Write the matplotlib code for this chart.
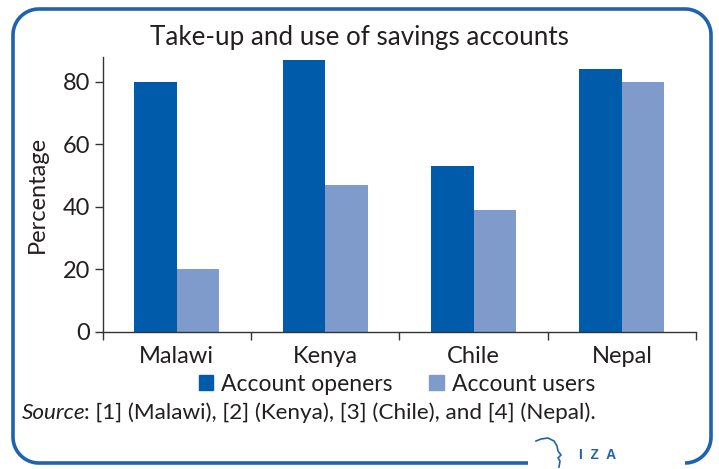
import numpy as np
import matplotlib
matplotlib.use("Agg")
import matplotlib.pyplot as plt
from matplotlib.patches import Patch

categories = ["Malawi", "Kenya", "Chile", "Nepal"]
openers = [80, 87, 53, 84]
users = [20, 47, 39, 80]
series_names = ["Account openers", "Account users"]
yticks = [0, 20, 40, 60, 80]
title = "Take-up and use of savings accounts"
source_lead = "Source"
source_rest = ": [1] (Malawi), [2] (Kenya), [3] (Chile), and [4] (Nepal)."

C_DARK = "#005BAA"
C_LIGHT = "#7F9BCC"
C_BORDER = "#1F63B0"
C_TEXT = "#231F20"
FONT = "Lato"

W, H = 719, 469
fig = plt.figure(figsize=(W / 100, H / 100), dpi=100)
fig.patch.set_facecolor("white")
renderer = fig.canvas.get_renderer()

bg = fig.add_axes([0, 0, 1, 1], zorder=0)
bg.set_xlim(0, W)
bg.set_ylim(H, 0)
bg.axis("off")

L, R, T, B, r = 13, 711, 9, 463, 26
def arc(cx, cy, a0, a1, n=30):
    t = np.radians(np.linspace(a0, a1, n))
    return cx + r * np.cos(t), cy - r * np.sin(t)
xs, ys = [528, L + r], [B, B]
for cx, cy, a0, a1 in [(L + r, B - r, 270, 180), (L + r, T + r, 180, 90),
                       (R - r, T + r, 90, 0), (R - r, B - r, 0, -90)]:
    ax_, ay_ = arc(cx, cy, a0, a1)
    xs += list(ax_); ys += list(ay_)
bg.plot(xs, ys, color=C_BORDER, lw=2.6, solid_capstyle="butt", solid_joinstyle="round")

fx = [536, 541, 548, 554, 557, 558, 561, 558, 560, 559]
fy = [441, 439, 438, 441, 446, 451, 455, 458, 461, 467]
bg.plot(fx, fy, color=C_BORDER, lw=1.2)
bg.text(598, 455, "I  Z  A", color=C_BORDER, fontsize=10, fontweight="bold",
        family="Liberation Sans", ha="center", va="center")

ax = fig.add_axes([102.7 / W, 1 - 332 / H, (696 - 102.7) / W, (332 - 56.7) / H], zorder=1)
ax.patch.set_alpha(0)
x = np.arange(len(categories))
bw = 0.287
ax.bar(x - bw / 2, openers, bw, color=C_DARK, label=series_names[0])
ax.bar(x + bw / 2, users, bw, color=C_LIGHT, label=series_names[1])
ax.set_xlim(-0.5, len(categories) - 0.5)
ax.set_ylim(0, 88)
for s in ["top", "right"]:
    ax.spines[s].set_visible(False)
for s in ["left", "bottom"]:
    ax.spines[s].set_color("#333333")
    ax.spines[s].set_linewidth(1.0)
FS = 17
ax.set_yticks(yticks)
ax.set_yticklabels([str(v) for v in yticks], family=FONT, fontsize=FS, color=C_TEXT)
ax.set_xticks(x)
ax.set_xticklabels(categories, family=FONT, fontsize=FS, color=C_TEXT)
ax.set_xticks(np.arange(-0.5, len(categories)), minor=True)
ax.tick_params(axis="x", which="major", length=0, pad=10)
ax.tick_params(axis="x", which="minor", length=6, width=1, color="#333333", direction="out")
ax.tick_params(axis="y", length=6, width=1, color="#333333", pad=3)
ax.set_ylabel("Percentage", family=FONT, fontsize=FS, color=C_TEXT, labelpad=11)

def fit(txt, target_px):
    txt.set_fontsize(20)
    w = txt.get_window_extent(renderer).width
    txt.set_fontsize(20 * target_px / w)

tt = fig.text(359 / W, 1 - 37 / H, title, family=FONT,
              color=C_TEXT, ha="center", va="center")
fit(tt, 418)

handles = [Patch(color=C_DARK), Patch(color=C_LIGHT)]
leg = fig.legend(handles, series_names, loc="center", bbox_to_anchor=(397 / W, 1 - 384 / H),
                 ncol=2, frameon=False, prop={"family": FONT, "size": 16.5},
                 handlelength=0.62, handleheight=0.62, handletextpad=0.35, columnspacing=1.6)
for t in leg.get_texts():
    t.set_color(C_TEXT)

s1 = fig.text(22 / W, 1 - 413 / H, source_lead, family=FONT, style="italic", fontsize=15.5,
              color=C_TEXT, ha="left", va="center")
s2 = fig.text(0, 1 - 413 / H, source_rest, family=FONT, fontsize=15.5,
              color=C_TEXT, ha="left", va="center")
w1 = s1.get_window_extent(renderer).width
w2 = s2.get_window_extent(renderer).width
scale = (598 - 22) / (w1 + w2)
s1.set_fontsize(15.5 * scale)
s2.set_fontsize(15.5 * scale)
w1 = s1.get_window_extent(renderer).width
s2.set_x((22 + w1 - 2) / W)

fig.savefig("out.png", dpi=100)
